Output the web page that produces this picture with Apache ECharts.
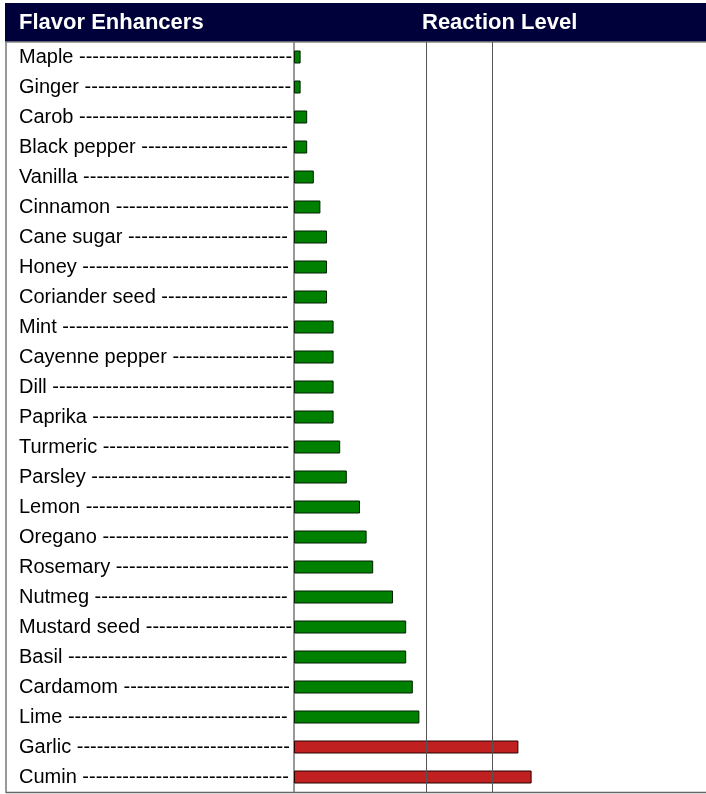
<!DOCTYPE html>
<html>
<head>
<meta charset="utf-8">
<script src="https://cdn.jsdelivr.net/npm/echarts@6/dist/echarts.min.js"></script>
<style>
  html, body { margin: 0; padding: 0; background: #fff; }
  #chart { width: 706px; height: 794px; }
</style>
</head>
<body>
<div id="chart"></div>
<script>
  // data
  const categories = ['Maple', 'Ginger', 'Carob', 'Black pepper', 'Vanilla', 'Cinnamon', 'Cane sugar', 'Honey',
    'Coriander seed', 'Mint', 'Cayenne pepper', 'Dill', 'Paprika', 'Turmeric', 'Parsley', 'Lemon', 'Oregano',
    'Rosemary', 'Nutmeg', 'Mustard seed', 'Basil', 'Cardamom', 'Lime', 'Garlic', 'Cumin'];
  const values = [1, 1, 2, 2, 3, 4, 5, 5, 5, 6, 6, 6, 6, 7, 8, 10, 11, 12, 15, 17, 17, 18, 19, 34, 36];
  const highlighted = ['Garlic', 'Cumin'];
  const refLines = [20, 30];
  const headers = ['Flavor Enhancers', 'Reaction Level'];

  const fontFamily = '"Liberation Sans", Arial, sans-serif';
  const ctx = document.createElement('canvas').getContext('2d');
  ctx.font = '20px ' + fontFamily;

  // label + dashed leader up to the axis
  function withLeader(name) {
    let s = name + ' ';
    while (ctx.measureText(s + '-').width <= 274) s += '-';
    return s;
  }

  let chart = echarts.init(document.getElementById('chart'));
  chart.setOption({
    animation: false,
    grid: { left: 294, top: 42, width: 412, height: 750 },
    xAxis: {
      type: 'value',
      min: 0,
      max: 412 / 6.6,
      show: false
    },
    yAxis: {
      type: 'category',
      data: categories,
      inverse: true,
      axisTick: { show: false },
      axisLine: { lineStyle: { color: '#777', width: 1.5 } },
      axisLabel: {
        align: 'left',
        margin: 275,
        color: '#000',
        fontSize: 20,
        fontFamily: fontFamily,
        padding: [3, 0, 0, 0],
        formatter: withLeader
      }
    },
    graphic: [
      { type: 'rect', shape: { x: 5, y: 3, width: 701, height: 39 }, style: { fill: '#00003a' } },
      { type: 'line', shape: { x1: 5, y1: 42, x2: 706, y2: 42 }, style: { stroke: '#888', lineWidth: 1.5 } },
      { type: 'line', shape: { x1: 6, y1: 42, x2: 6, y2: 793 }, style: { stroke: '#777', lineWidth: 1.5 } },
      { type: 'line', shape: { x1: 6, y1: 792.5, x2: 706, y2: 792.5 }, style: { stroke: '#666', lineWidth: 1.5 } },
      { type: 'text', x: 19, y: 23, style: { text: headers[0], fill: '#fff', font: 'bold 22px ' + fontFamily, verticalAlign: 'middle' } },
      { type: 'text', x: 422, y: 23, style: { text: headers[1], fill: '#fff', font: 'bold 22px ' + fontFamily, verticalAlign: 'middle' } }
    ],
    series: [
      {
        type: 'bar',
        barWidth: 13,
        data: values.map((v, i) => ({
          value: v,
          itemStyle: highlighted.includes(categories[i])
            ? { color: '#c02020', borderColor: '#2a0000' }
            : { color: '#008000', borderColor: '#002000' }
        })),
        itemStyle: { borderWidth: 1 },
        markLine: {
          silent: true,
          symbol: 'none',
          label: { show: false },
          lineStyle: { color: '#555', width: 1, type: 'solid' },
          data: refLines.map(v => ({ xAxis: v }))
        }
      }
    ]
  });
</script>
</body>
</html>
